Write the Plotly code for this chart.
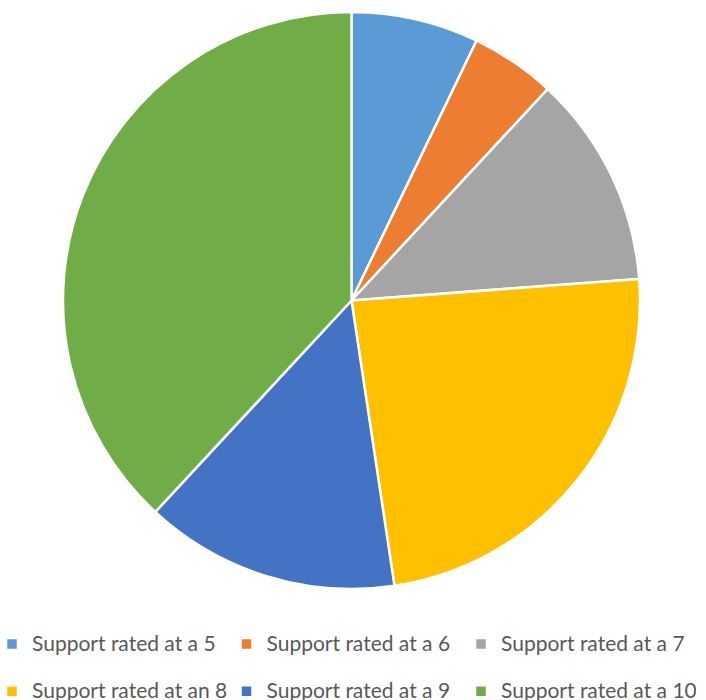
import plotly.graph_objects as go

categories = [
    "Support rated at a 5",
    "Support rated at a 6",
    "Support rated at a 7",
    "Support rated at an 8",
    "Support rated at a 9",
    "Support rated at a 10",
]
counts = [3, 2, 5, 10, 6, 16]
colors = ["#5B9BD5", "#ED7D31", "#A5A5A5", "#FFC000", "#4472C4", "#70AD47"]

# larger visible text, plus an empty second line to give the taller legend rows
legend_labels = ['<span style="font-size:21px">' + c + "</span><br>\u00a0" for c in categories]

fig = go.Figure(
    go.Pie(
        labels=legend_labels,
        values=counts,
        sort=False,
        direction="clockwise",
        rotation=0,
        textinfo="none",
        hoverinfo="label+value+percent",
        domain=dict(x=[63 / 706, 640 / 706], y=[0, 1]),
        marker=dict(colors=colors, line=dict(color="white", width=2.5)),
    )
)

fig.update_layout(
    width=706,
    height=700,
    paper_bgcolor="white",
    plot_bgcolor="white",
    margin=dict(l=0, r=0, t=12, b=111, autoexpand=False),
    showlegend=True,
    legend=dict(
        orientation="h",
        x=-8 / 706,
        xanchor="left",
        y=-0.065,
        yanchor="top",
        valign="top",
        entrywidth=189.5,
        entrywidthmode="pixels",
        font=dict(family="Lato", size=17, color="#595959"),
        bgcolor="rgba(0,0,0,0)",
    ),
)

fig.write_html("out.html")
